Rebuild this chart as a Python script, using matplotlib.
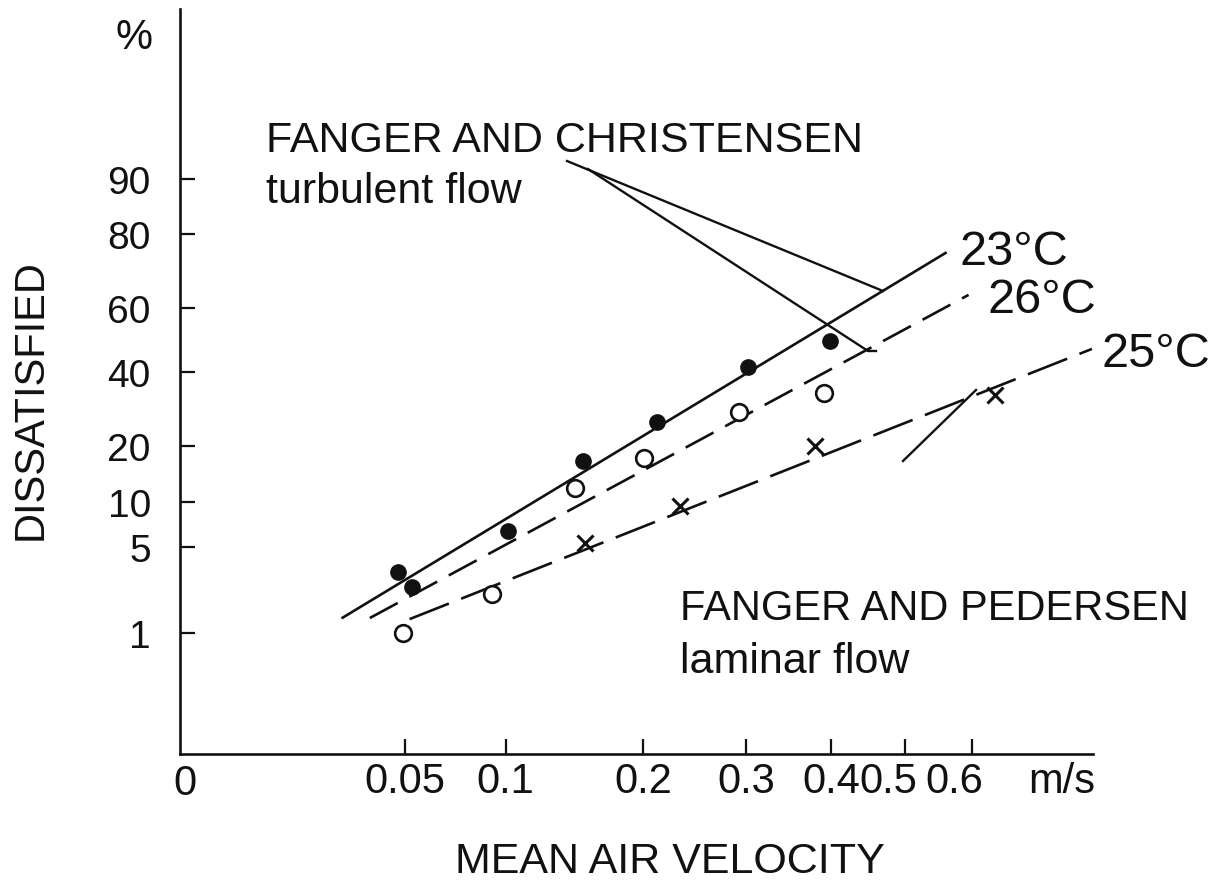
import math

import matplotlib
matplotlib.use("Agg")
import matplotlib.pyplot as plt
import matplotlib.transforms as mtransforms
import numpy as np
from matplotlib.lines import Line2D

# ── Data ──────────────────────────────────────────────────────────────────────
# fitted lines, end points: velocity (m/s), dissatisfied (%)
v_23 = [0.028, 0.561]
p_23 = [1.36, 75.7]
v_26 = [0.037, 0.595]
p_26 = [1.37, 64.0]
v_25 = [0.052, 0.807]
p_25 = [1.34, 47.2]

# measured points
filled_v = [0.0475, 0.0529, 0.1017, 0.1515, 0.212, 0.3017, 0.3985]
filled_p = [3.3, 2.5, 6.5, 16.9, 25.9, 41.5, 49.8]
open_v = [0.0492, 0.0921, 0.1458, 0.2008, 0.2926, 0.3911]
open_p = [1.0, 2.2, 12.0, 17.4, 28.4, 33.7]
cross_v = [0.1532, 0.2334, 0.3798, 0.6376]
cross_p = [5.4, 9.4, 20.0, 33.2]

x_ticks = [0.05, 0.1, 0.2, 0.3, 0.4, 0.5, 0.6]
x_labels = ["0.05", "0.1", "0.2", "0.3", "0.4", "0.5", "0.6"]
y_ticks = [1, 5, 10, 20, 40, 60, 80, 90]

# ── Style ─────────────────────────────────────────────────────────────────────
INK = "#111111"
plt.rcParams["font.family"] = ["Liberation Sans", "DejaVu Sans"]
W, H = 1228, 887


def fx(x):
    return x / W


def fy(y):
    return 1 - y / H


# ── Scales: power-law velocity axis, probability (probit) percentage axis ─────
POW = 0.45


def vel_fwd(v):
    return np.power(np.clip(np.asarray(v, float), 0, None), POW)


def vel_inv(u):
    return np.power(np.clip(np.asarray(u, float), 0, None), 1 / POW)


_A = [-3.969683028665376e+01, 2.209460984245205e+02, -2.759285104469687e+02,
      1.383577518672690e+02, -3.066479806614716e+01, 2.506628277459239e+00]
_B = [-5.447609879822406e+01, 1.615858368580409e+02, -1.556989798598866e+02,
      6.680131188771972e+01, -1.328068155288572e+01]
_C = [-7.784894002430293e-03, -3.223964580411365e-01, -2.400758277161838e+00,
      -2.549732539343734e+00, 4.374664141464968e+00, 2.938163982698783e+00]
_D = [7.784695709041462e-03, 3.224671290700398e-01, 2.445134137142996e+00,
      3.754408661907416e+00]


def _ppf(p):
    p = np.clip(np.asarray(p, float), 1e-12, 1 - 1e-12)
    out = np.empty_like(p)
    lo = p < 0.02425
    hi = p > 1 - 0.02425
    mid = ~(lo | hi)
    q = p[mid] - 0.5
    r = q * q
    num = (((((_A[0] * r + _A[1]) * r + _A[2]) * r + _A[3]) * r + _A[4]) * r + _A[5]) * q
    den = ((((_B[0] * r + _B[1]) * r + _B[2]) * r + _B[3]) * r + _B[4]) * r + 1
    out[mid] = num / den
    for mask, sign, pp in ((lo, 1, p[lo]), (hi, -1, 1 - p[hi])):
        q = np.sqrt(-2 * np.log(pp))
        num = ((((_C[0] * q + _C[1]) * q + _C[2]) * q + _C[3]) * q + _C[4]) * q + _C[5]
        den = (((_D[0] * q + _D[1]) * q + _D[2]) * q + _D[3]) * q + 1
        out[mask] = sign * num / den
    return out


_erf = np.vectorize(math.erf)


def pct_fwd(y):
    return _ppf(np.asarray(y, float) / 100.0)


def pct_inv(z):
    return 50.0 * (1 + _erf(np.asarray(z, float) / math.sqrt(2)))


# ── Figure ────────────────────────────────────────────────────────────────────
fig = plt.figure(figsize=(W / 100, H / 100), dpi=100)
fig.patch.set_facecolor("white")
ax = fig.add_axes([fx(180), fy(755), (1093 - 180) / W, (755 - 10) / H])

ax.set_xscale("function", functions=(vel_fwd, vel_inv))
ax.set_yscale("function", functions=(pct_fwd, pct_inv))
ax.set_xlim(0.00116, 0.809)
ax.set_ylim(0.051, 99.57)

lw = 1.9
ax.plot(v_23, p_23, color=INK, lw=lw, solid_capstyle="butt")
ax.plot(v_26, p_26, color=INK, lw=lw, dashes=(12, 5))
ax.plot(v_25, p_25, color=INK, lw=lw, dashes=(16, 5))

ax.plot(filled_v, filled_p, "o", ms=11, color=INK, mec=INK, zorder=4)
ax.plot(open_v, open_p, "o", ms=12, mfc="white", mec=INK, mew=1.9, zorder=4)
ax.plot(cross_v, cross_p, "x", ms=11, mec=INK, mew=2.2, zorder=4)

# axes look
for s in ("top", "right"):
    ax.spines[s].set_visible(False)
for s in ("left", "bottom"):
    ax.spines[s].set_color(INK)
    ax.spines[s].set_linewidth(1.9)

ax.set_xticks(x_ticks)
ax.set_xticklabels(x_labels)
ax.set_yticks(y_ticks)
ax.set_yticklabels([str(t) for t in y_ticks])
ax.minorticks_off()
ax.tick_params(axis="x", direction="in", length=11, width=1.6, color=INK,
               labelsize=30, labelcolor=INK, pad=5)
ax.tick_params(axis="y", direction="in", length=11, width=1.6, color=INK,
               labelsize=28, labelcolor=INK, pad=21)

# the crowded 0.5 / 0.6 labels sit a little left of their ticks
shift = mtransforms.ScaledTranslation(-0.17, 0, fig.dpi_scale_trans)
for lab in ax.get_xticklabels()[5:]:
    lab.set_transform(lab.get_transform() + shift)

# ── Texts ─────────────────────────────────────────────────────────────────────
fig.text(fx(134), fy(38), "%", fontsize=30, ha="center", va="center", color=INK)
fig.text(fx(185), fy(784), "0", fontsize=30, ha="center", va="center", color=INK)
fig.text(fx(1062), fy(782), "m/s", fontsize=30, ha="center", va="center", color=INK)
fig.text(fx(31), fy(400), "DISSATISFIED", fontsize=30, rotation=90,
         ha="center", va="center", color=INK)
fig.text(fx(670), fy(862), "MEAN AIR VELOCITY", fontsize=31, ha="center",
         va="center", color=INK)

fig.text(fx(266), fy(152), "FANGER AND CHRISTENSEN", fontsize=31, ha="left",
         va="baseline", color=INK)
fig.text(fx(266), fy(203), "turbulent flow", fontsize=31, ha="left",
         va="baseline", color=INK)
fig.text(fx(680), fy(620), "FANGER AND PEDERSEN", fontsize=30, ha="left",
         va="baseline", color=INK)
fig.text(fx(680), fy(673), "laminar flow", fontsize=31, ha="left",
         va="baseline", color=INK)

fig.text(fx(960), fy(265), "23°C", fontsize=35, ha="left", va="baseline", color=INK)
fig.text(fx(988), fy(313), "26°C", fontsize=35, ha="left", va="baseline", color=INK)
fig.text(fx(1102), fy(367), "25°C", fontsize=35, ha="left", va="baseline", color=INK)

# leader lines
leaders = [
    ([567, 883], [162, 292]),
    ([588, 868, 876], [170, 352, 352]),
    ([903, 976], [462, 391]),
]
for xs, ys in leaders:
    fig.add_artist(Line2D([fx(x) for x in xs], [fy(y) for y in ys],
                          color=INK, lw=1.7, transform=fig.transFigure))

fig.savefig("out.png", dpi=100, facecolor="white")
